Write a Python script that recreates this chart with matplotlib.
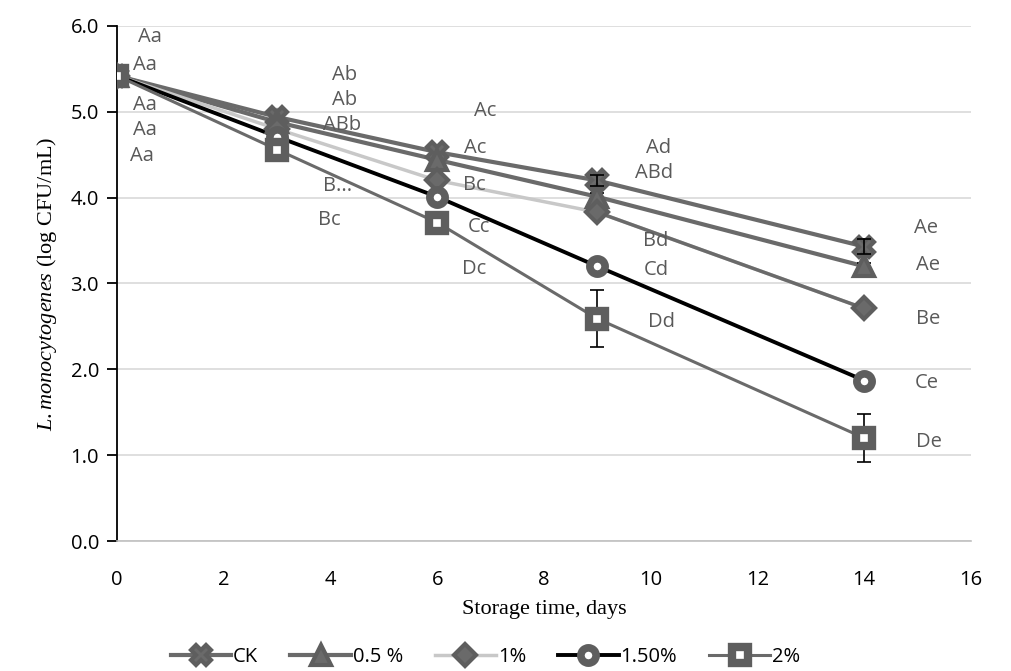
import numpy as np
import matplotlib.pyplot as plt
from matplotlib.lines import Line2D

plt.rcParams["mathtext.fontset"] = "custom"
plt.rcParams["mathtext.it"] = "Liberation Serif:italic"
plt.rcParams["mathtext.rm"] = "Liberation Serif"

days = [0, 3, 6, 9, 14]

ck = [5.42, 4.94, 4.53, 4.20, 3.43]
p05 = [5.42, 4.88, 4.44, 4.01, 3.20]
p1 = [5.42, 4.80, 4.20, 3.83, 2.71]
p15 = [5.42, 4.71, 4.01, 3.20, 1.87]
p2 = [5.42, 4.56, 3.71, 2.59, 1.20]

ck_err = [0.02, 0.03, 0.03, 0.06, 0.09]
p05_err = [0.02, 0.03, 0.03, 0.04, 0.04]
p1_err = [0.02, 0.03, 0.03, 0.04, 0.04]
p15_err = [0.02, 0.03, 0.03, 0.04, 0.04]
p2_err = [0.02, 0.03, 0.04, 0.33, 0.28]

ck_lab = ["Aa", "Ab", "Ac", "Ad", "Ae"]
p05_lab = ["Aa", "Ab", "Ac", "ABd", "Ae"]
p1_lab = ["Aa", "ABb", "Bc", "Bd", "Be"]
p15_lab = ["Aa", "B...", "Cc", "Cd", "Ce"]
p2_lab = ["Aa", "Bc", "Dc", "Dd", "De"]

# label offsets (days, log units) from each point
ck_off = [(0.62, 0.45), (1.27, 0.49), (0.89, 0.48), (1.15, 0.38), (1.15, 0.22)]
p05_off = [(0.52, 0.13), (1.27, 0.26), (0.72, 0.14), (1.06, 0.28), (1.19, 0.01)]
p1_off = [(0.52, -0.34), (1.22, 0.05), (0.69, -0.05), (1.09, -0.33), (1.19, -0.12)]
p15_off = [(0.52, -0.63), (1.14, -0.57), (0.78, -0.35), (1.11, -0.04), (1.17, -0.03)]
p2_off = [(0.47, -0.94), (0.97, -0.82), (0.70, -0.54), (1.20, -0.04), (1.22, -0.05)]

gray = "#5e5e5e"
lab_color = "#595959"

fig = plt.figure(figsize=(10.11, 6.71), dpi=100)
ax = fig.add_axes([0.1157, 0.1937, 0.8447, 0.7676])

# name, values, errors, labels, offsets, line colour, line width, marker, size, edge width, face
series = [
    ("CK", ck, ck_err, ck_lab, ck_off, "#6a6a6a", 3.0, "X", 15, 3.0, "#6a6a6a"),
    ("0.5 %", p05, p05_err, p05_lab, p05_off, "#6a6a6a", 3.0, "^", 15, 3.0, "#6a6a6a"),
    ("1%", p1, p1_err, p1_lab, p1_off, "#c8c8c8", 2.5, "D", 11, 3.0, "#6a6a6a"),
    ("1.50%", p15, p15_err, p15_lab, p15_off, "black", 2.8, "o", 11, 5.5, "white"),
    ("2%", p2, p2_err, p2_lab, p2_off, "#6a6a6a", 2.2, "s", 12, 6.0, "white"),
]

handles = []
for name, vals, err, labs, offs, lc, lw, mk, ms, mew, fc in series:
    ax.plot(days, vals, color=lc, lw=lw, zorder=2)
    if name == "1%":
        # last segment of this series is drawn darker
        ax.plot(days[3:], vals[3:], color="#6a6a6a", lw=2.5, zorder=2)
    ax.plot(days, vals, ls="none", marker=mk, ms=ms, mfc=fc,
            mec=gray, mew=mew, zorder=3)
    ax.errorbar(days, vals, yerr=err, fmt="none", ecolor="black",
                elinewidth=1.2, capsize=5, capthick=1.2, zorder=2.5)
    for x, y, t, (dx, dy) in zip(days, vals, labs, offs):
        ax.text(x + dx, y + dy, t, color=lab_color, fontsize=14.5,
                family="Open Sans", ha="center", va="center", zorder=5)
    handles.append(Line2D([0], [0], color=lc, lw=lw, marker=mk,
                          ms=ms, mfc=fc, mec=gray, mew=mew))

# the CK error at the last points sits on top of the markers
ax.errorbar(days[3:], ck[3:], yerr=ck_err[3:], fmt="none", ecolor="black",
            elinewidth=1.2, capsize=5, capthick=1.2, zorder=4)

ax.set_xlim(0, 16)
ax.set_ylim(0, 6)
ax.set_xticks(np.arange(0, 17, 2))
ax.set_yticks(np.arange(0, 6.1, 1))
ax.set_yticklabels([f"{v:.1f}" for v in np.arange(0, 6.1, 1)])
ax.grid(axis="y", color="#d9d9d9", lw=1.2)
ax.set_axisbelow(True)

for s in ["top", "right"]:
    ax.spines[s].set_visible(False)
ax.spines["left"].set_color("black")
ax.spines["left"].set_linewidth(1.3)
ax.spines["bottom"].set_color("#c0c0c0")
ax.spines["bottom"].set_linewidth(1.2)
ax.tick_params(axis="y", direction="out", length=7, width=1.3, color="black",
               labelsize=14.5, pad=6)
ax.tick_params(axis="x", length=0, labelsize=14.5, pad=21)
for lbl in ax.get_xticklabels() + ax.get_yticklabels():
    lbl.set_family("Open Sans")

ax.set_xlabel("Storage time, days", family="Liberation Serif", fontsize=16,
              labelpad=7)
ax.set_ylabel(r"$\mathit{L.monocytogenes}$ (log CFU/mL)",
              family="Liberation Serif", fontsize=16, labelpad=8)

fig.legend(handles, [s[0] for s in series], loc="center",
           bbox_to_anchor=(0.48, 0.021), ncol=5, frameon=False,
           handlelength=3.0, columnspacing=1.6, handletextpad=0.1,
           prop={"family": "Open Sans", "size": 14.5})

fig.savefig("out.png", dpi=100)
